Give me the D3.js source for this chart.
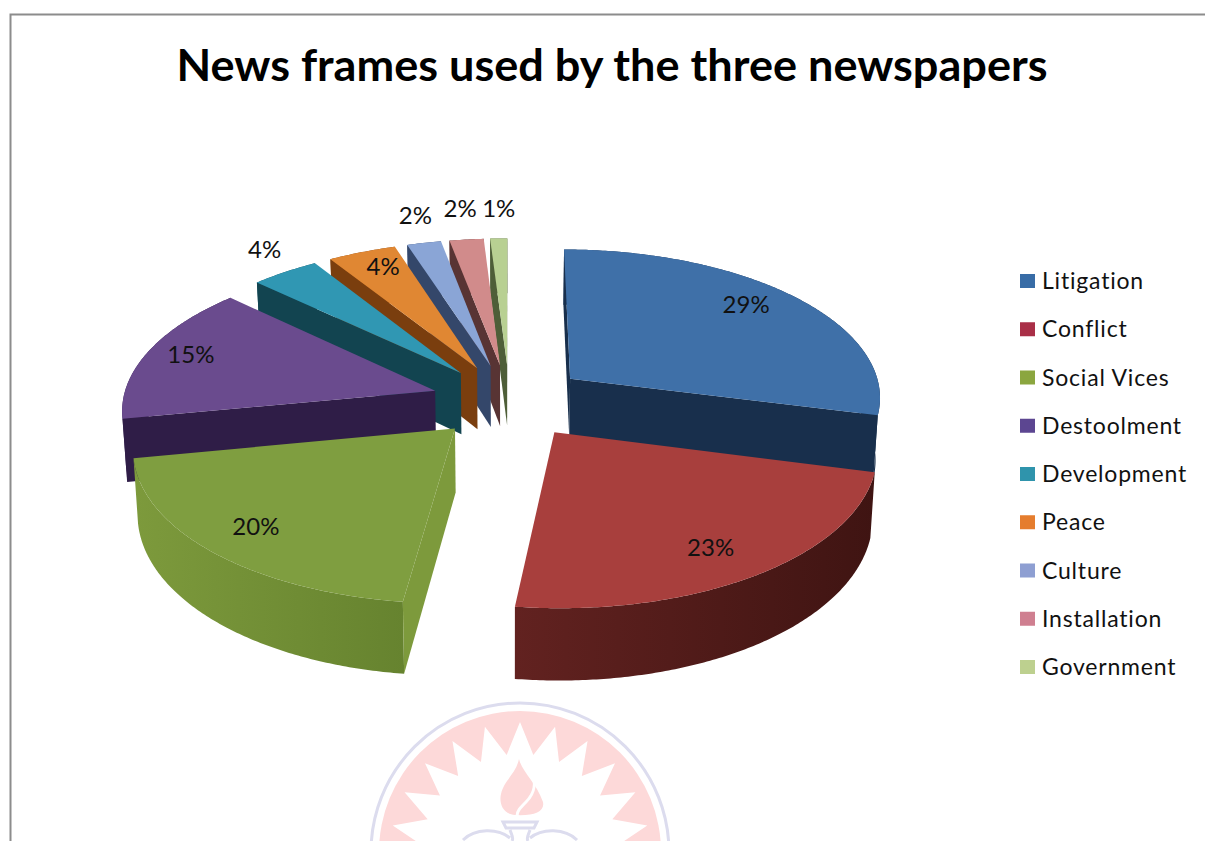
<!DOCTYPE html>
<html>
<head>
<meta charset="utf-8">
<script src="https://cdn.jsdelivr.net/npm/d3@7/dist/d3.min.js"></script>
<style>
  html, body { margin: 0; padding: 0; background: #fff; }
  svg { display: block; }
  text { font-family: Lato, "Open Sans", sans-serif; fill: #111; }
</style>
</head>
<body>
<svg id="chart" width="1205" height="841"></svg>
<script>
// Chart content
const chartTitle = "News frames used by the three newspapers";
const categories = ["Litigation", "Conflict", "Social Vices", "Destoolment", "Development", "Peace", "Culture", "Installation", "Government"];
const shares = [29, 23, 20, 15, 4, 4, 2, 2, 1];

// Slice styling
const topColors = ["#3f70a8", "#a83f3d", "#7f9e40", "#6a4b8e", "#3097b3", "#e08733", "#8aa5d6", "#d18b8b", "#b8d092"];
const wallLight = ["#1f3b60", "#622220", "#7d9a3c", "#3a2556", "#174f5f", "#8f4b12", "#41577c", "#6a4040", "#5f7044"];
const wallDark  = ["#182f4c", "#3f1412", "#66832f", "#2f1d47", "#124450", "#7a3e0e", "#34476a", "#583434", "#4e5e38"];
const legendColors = ["#386ca6", "#a92f47", "#8ba63f", "#5c4691", "#2f94ac", "#e57d2e", "#8e9fd2", "#cf7f90", "#bdd08f"];

// Label placement: radius as a fraction of the pie radius, and an angular nudge in degrees
const labelRadius = [0.835, 0.81, 0.815, 0.855, 1.21, 0.86, 1.25, 1.288, 1.278];
const labelShift = [-3.7, 1, 0.8, 1.8, 3, 2, 1.3, 0.6, 0.6];
const labelOffsetX = -1.5;

// Projection of the tilted pie
const centerX = 509.5, centerY = 401;
const radius = 312.5, explode = 78;
const tilt = 0.475, perspective = 0.00036;
const thickness = 62.5, taper = 0.012;

function project(u, v, h) {
  const s = 1 / (1 - perspective * v);
  return [centerX + u * s * (1 - taper * h), centerY + s * (tilt * v + thickness * h)];
}

const svg = d3.select("#chart");
const defs = svg.append("defs");
const line = d3.line();

// Page frame
svg.append("path")
  .attr("d", "M10.5,841V14.5H1205")
  .attr("fill", "none").attr("stroke", "#8c8c8c").attr("stroke-width", 2);

// University seal behind the chart foot
const seal = svg.append("g").attr("transform", "translate(520,852)");
seal.append("circle").attr("r", 149).attr("fill", "none").attr("stroke", "#dcdcee").attr("stroke-width", 3);
seal.append("circle").attr("r", 141).attr("fill", "#fdd9d9");
const spikeCount = 46;
const burst = d3.range(spikeCount).map(i => [
  (i / spikeCount) * 2 * Math.PI,
  i % 2 === 0 ? 130 : 98
]);
seal.append("path")
  .attr("d", d3.lineRadial().curve(d3.curveLinearClosed)(burst))
  .attr("fill", "#ffffff");
seal.append("path")
  .attr("d", "M-1,-93C2,-80 16,-70 23,-50C25,-40 14,-36 -5,-37C-18,-38 -21,-50 -19,-58C-16,-72 -4,-78 -1,-93Z")
  .attr("fill", "#fdd9d9");
seal.append("path")
  .attr("d", "M10,-84C18,-68 14,-58 6,-50C0,-44 -3,-41 -3,-36")
  .attr("fill", "none").attr("stroke", "#fff").attr("stroke-width", 3);
seal.append("path")
  .attr("d", "M-17,-30H17L14,-24H-14ZM-10,-22C-8,-16 -6,-14 -8,-11M10,-22C8,-16 6,-14 8,-11M-57,-12C-45,-24 -22,-24 -10,-14M57,-12C45,-24 22,-24 10,-14")
  .attr("fill", "none").attr("stroke", "#dcdcee").attr("stroke-width", 3);

// Slice geometry from the pie layout
const pie = d3.pie().sort(null).value(d => d.share);
const slices = pie(categories.map((name, i) => ({ name, share: shares[i], index: i }))).map(p => {
  const mid = (p.startAngle + p.endAngle) / 2;
  return {
    ...p,
    i: p.data.index,
    mid,
    ou: explode * Math.sin(mid),
    ov: -explode * Math.cos(mid)
  };
});

function rim(p, a, h) {
  return project(p.ou + radius * Math.sin(a), p.ov - radius * Math.cos(a), h);
}
function arcPoints(p, h) {
  const n = Math.max(2, Math.ceil((p.endAngle - p.startAngle) / 0.01));
  return d3.range(n + 1).map(k => rim(p, p.startAngle + (p.endAngle - p.startAngle) * k / n, h));
}

slices.forEach(p => {
  const g = defs.append("linearGradient").attr("id", "wall" + p.i);
  g.append("stop").attr("offset", 0).attr("stop-color", wallLight[p.i]);
  g.append("stop").attr("offset", 1).attr("stop-color", wallDark[p.i]);
});

// Paint from the far side of the pie to the near side
const drawOrder = slices.slice().sort((a, b) => a.ov - b.ov);

const groups = svg.append("g").selectAll("g").data(drawOrder).join("g");

groups.each(function (p) {
  const g = d3.select(this);
  const apexTop = project(p.ou, p.ov, 0);
  const apexBase = project(p.ou, p.ov, 1);
  const outerTop = arcPoints(p, 0);
  const outerBase = arcPoints(p, 1);

  // curved outer wall
  g.append("path")
    .attr("d", line(outerTop.concat(outerBase.slice().reverse())) + "Z")
    .attr("fill", `url(#wall${p.i})`);

  // flat cut walls, skipping any that face away from the viewer
  [[p.endAngle, 1], [p.startAngle, -1]].forEach(([a, facing]) => {
    const quad = [apexTop, rim(p, a, 0), rim(p, a, 1), apexBase];
    if (-d3.polygonArea(quad) * facing <= 0) return;
    g.append("path")
      .attr("d", line(quad) + "Z")
      .attr("fill", p.i === 2 ? wallLight[p.i] : wallDark[p.i]);
  });

  // top face
  g.append("path")
    .attr("d", line([apexTop].concat(outerTop)) + "Z")
    .attr("fill", topColors[p.i]);
});

// Percentage labels
svg.append("g").selectAll("text").data(slices).join("text")
  .attr("text-anchor", "middle")
  .attr("dominant-baseline", "central")
  .attr("font-size", 24)
  .attr("transform", p => {
    const a = p.mid + labelShift[p.i] * Math.PI / 180;
    const r = labelRadius[p.i] * radius;
    const xy = project(p.ou + r * Math.sin(a), p.ov - r * Math.cos(a), 0);
    return `translate(${xy[0] + labelOffsetX},${xy[1]})`;
  })
  .text(p => p.data.share + "%");

// Title
svg.append("text")
  .attr("x", 612).attr("y", 81)
  .attr("text-anchor", "middle")
  .attr("font-size", 43).attr("font-weight", 700)
  .attr("textLength", 871).attr("lengthAdjust", "spacingAndGlyphs")
  .style("fill", "#000")
  .text(chartTitle);

// Legend
const legendY = d3.scalePoint().domain(categories).range([280, 666]);
const legend = svg.append("g").selectAll("g").data(categories).join("g")
  .attr("transform", d => `translate(1020,${legendY(d)})`);
legend.append("rect")
  .attr("x", 0).attr("y", -6).attr("width", 15).attr("height", 14)
  .attr("fill", (d, i) => legendColors[i]);
legend.append("text")
  .attr("x", 22).attr("y", 0)
  .attr("dominant-baseline", "central")
  .attr("font-size", 23)
  .attr("letter-spacing", 0.8)
  .text(d => d);
</script>
</body>
</html>
